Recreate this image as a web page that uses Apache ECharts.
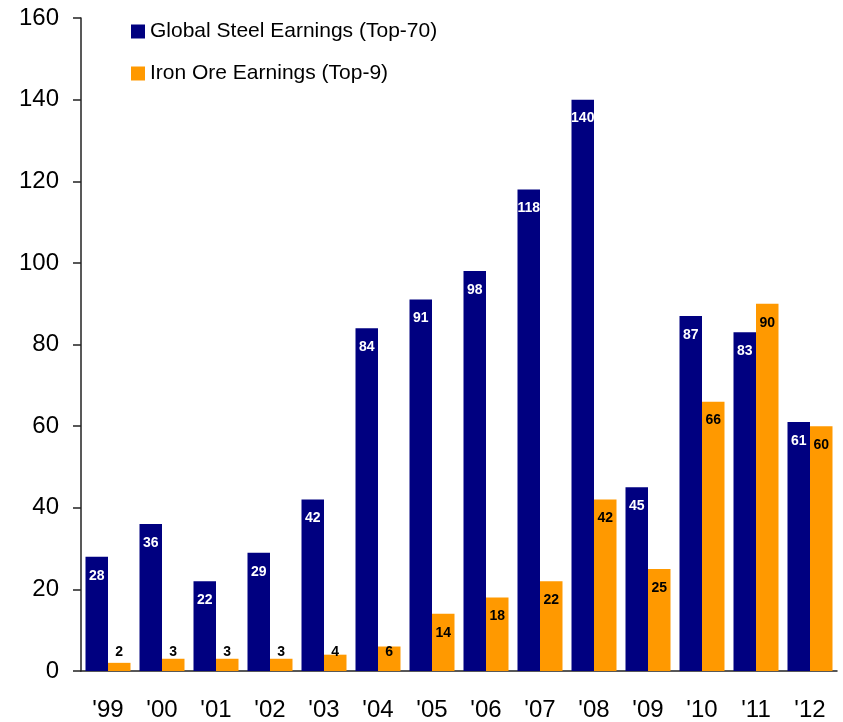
<!DOCTYPE html>
<html>
<head>
<meta charset="utf-8">
<script src="https://cdn.jsdelivr.net/npm/echarts@6/dist/echarts.min.js"></script>
<style>
  html, body { margin: 0; padding: 0; background: #fff; }
  #chart { width: 843px; height: 722px; }
</style>
</head>
<body>
<div id="chart"></div>
<script>
// years on the x axis
const years = ["'99", "'00", "'01", "'02", "'03", "'04", "'05", "'06", "'07", "'08", "'09", "'10", "'11", "'12"]
// earnings
const steelEarnings = [28, 36, 22, 29, 42, 84, 91, 98, 118, 140, 45, 87, 83, 61]
const ironOreEarnings = [2, 3, 3, 3, 4, 6, 14, 18, 22, 42, 25, 66, 90, 60]
const seriesNames = ['Global Steel Earnings (Top-70)', 'Iron Ore Earnings (Top-9)']

const font = 'Liberation Sans, Arial, sans-serif'

// short bars get their label pinned near the axis instead of inside the top
function toData (list) {
  return list.map(v => v < 9.5
    ? { value: v, label: { position: 'insideBottom', distance: 12 } }
    : v)
}

function barLabel (color) {
  return {
    show: true,
    position: 'insideTop',
    distance: 12,
    color: color,
    fontFamily: font,
    fontWeight: 'bold',
    fontSize: 14
  }
}

const chart = echarts.init(document.getElementById('chart'))
chart.setOption({
  animation: false,
  textStyle: { fontFamily: font },
  legend: {
    orient: 'vertical',
    left: 131,
    top: 21,
    padding: 0,
    itemGap: 21,
    itemWidth: 14,
    itemHeight: 14,
    icon: 'rect',
    textStyle: { color: '#000', fontSize: 21, fontFamily: font },
    data: seriesNames
  },
  grid: {
    left: 81,
    right: 6,
    top: 18,
    bottom: 51
  },
  xAxis: {
    type: 'category',
    data: years,
    axisLine: { lineStyle: { color: '#222', width: 1.5 } },
    axisTick: { length: 8, lineStyle: { color: '#222', width: 1.5 } },
    axisLabel: { color: '#000', fontSize: 24, margin: 27, fontFamily: font }
  },
  yAxis: {
    type: 'value',
    min: 0,
    max: 160,
    interval: 20,
    axisLine: { show: true, lineStyle: { color: '#222', width: 1.5 } },
    axisTick: { show: true, length: 8, lineStyle: { color: '#222', width: 1.5 } },
    axisLabel: { color: '#000', fontSize: 24, margin: 22, fontFamily: font },
    splitLine: { show: false }
  },
  series: [
    {
      name: seriesNames[0],
      type: 'bar',
      barWidth: 22.5,
      barGap: 0,
      itemStyle: { color: '#000080' },
      label: barLabel('#fff'),
      data: toData(steelEarnings)
    }, {
      name: seriesNames[1],
      type: 'bar',
      barWidth: 22.5,
      barGap: 0,
      itemStyle: { color: '#FF9900' },
      label: barLabel('#000'),
      data: toData(ironOreEarnings)
    }
  ]
})
</script>
</body>
</html>
